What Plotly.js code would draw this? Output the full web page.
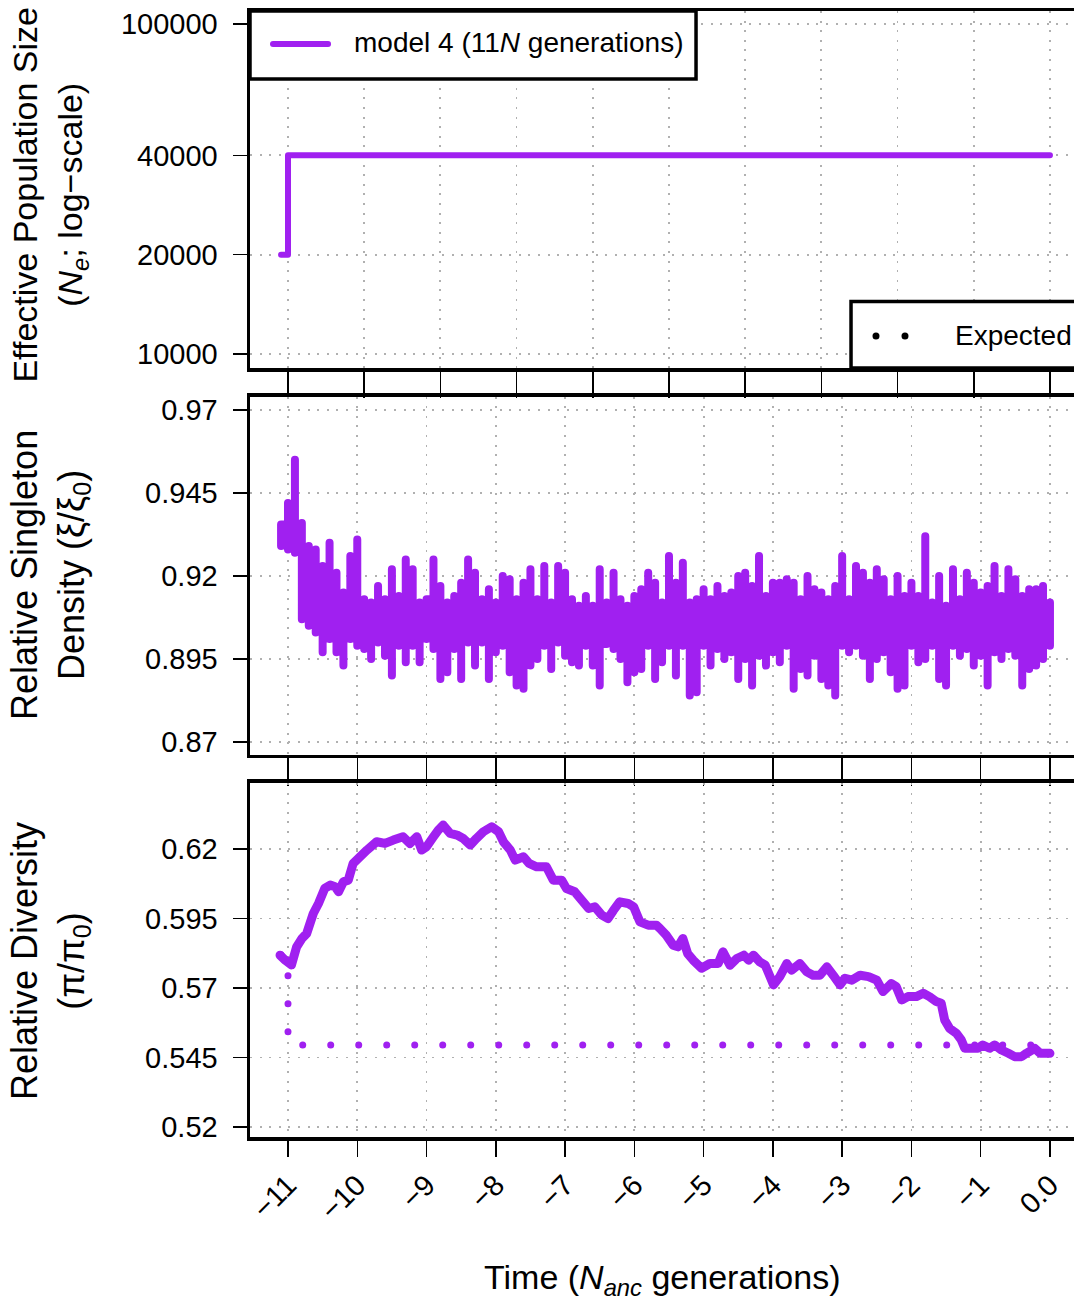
<!DOCTYPE html>
<html>
<head>
<meta charset="utf-8">
<script src="https://cdn.plot.ly/plotly-3.0.1.min.js"></script>
<style>
  html, body { margin: 0; padding: 0; background: #ffffff; }
  #chart { width: 1074px; height: 1302px; }
  /* round caps/joins so thick lines and the dotted expectation look like R output */
  .scatterlayer path.js-line { stroke-linecap: round !important; stroke-linejoin: round !important; }
  .shapelayer path { stroke-linecap: round; }
</style>
</head>
<body>
<div id="chart"></div>
<script>
// ---- Effective population size (step history) ----
const popTime = [-11.1, -11.0, 0.0];
const popSize = [20000, 40000, 40000];

// ---- Relative singleton density: per-bin minimum and maximum,
//      bins every 0.1 N_anc generations starting at -11.1 ----
const sfsStart = -11.1;
const sfsStep = 0.1;
const sfsBinLow = [
  0.929, 0.928, 0.927, 0.907, 0.905, 0.903, 0.897, 0.901, 0.897, 0.893,
  0.901, 0.899, 0.898, 0.895, 0.900, 0.896, 0.890, 0.899, 0.894, 0.899,
  0.894, 0.901, 0.898, 0.889, 0.891, 0.898, 0.889, 0.900, 0.893, 0.900,
  0.889, 0.897, 0.899, 0.891, 0.887, 0.886, 0.893, 0.895, 0.899, 0.892,
  0.900, 0.896, 0.894, 0.893, 0.899, 0.893, 0.887, 0.900, 0.898, 0.895,
  0.888, 0.891, 0.892, 0.899, 0.889, 0.894, 0.899, 0.890, 0.899, 0.884,
  0.885, 0.899, 0.893, 0.898, 0.895, 0.897, 0.889, 0.895, 0.887, 0.896,
  0.893, 0.897, 0.894, 0.899, 0.886, 0.892, 0.890, 0.896, 0.889, 0.887,
  0.884, 0.899, 0.897, 0.899, 0.896, 0.889, 0.895, 0.897, 0.891, 0.886,
  0.887, 0.899, 0.894, 0.895, 0.899, 0.889, 0.887, 0.899, 0.896, 0.898,
  0.893, 0.896, 0.887, 0.897, 0.895, 0.898, 0.896, 0.887, 0.892, 0.893,
  0.895, 0.899
];
const sfsBinHigh = [
  0.932, 0.942, 0.955, 0.936, 0.929, 0.928, 0.923, 0.930, 0.921, 0.915,
  0.926, 0.931, 0.913, 0.912, 0.917, 0.913, 0.922, 0.914, 0.925, 0.922,
  0.912, 0.913, 0.925, 0.917, 0.912, 0.914, 0.918, 0.925, 0.921, 0.913,
  0.916, 0.912, 0.920, 0.919, 0.913, 0.918, 0.922, 0.913, 0.923, 0.912,
  0.923, 0.921, 0.913, 0.911, 0.914, 0.911, 0.922, 0.912, 0.921, 0.913,
  0.911, 0.914, 0.916, 0.921, 0.918, 0.912, 0.926, 0.918, 0.924, 0.912,
  0.913, 0.916, 0.913, 0.917, 0.914, 0.915, 0.920, 0.921, 0.917, 0.926,
  0.914, 0.918, 0.918, 0.919, 0.918, 0.913, 0.920, 0.916, 0.915, 0.913,
  0.917, 0.926, 0.913, 0.923, 0.921, 0.918, 0.922, 0.919, 0.913, 0.920,
  0.914, 0.918, 0.914, 0.932, 0.912, 0.920, 0.911, 0.922, 0.913, 0.921,
  0.918, 0.915, 0.917, 0.923, 0.914, 0.922, 0.919, 0.914, 0.916, 0.916,
  0.917, 0.912
];

// Trace each bin from its maximum down to its minimum; with a 'vhv' line shape
// the hop to the next bin runs horizontally through the middle of the band,
// so the excursions stand up as vertical strokes.
const sfsTime = [];
const sfsValue = [];
sfsBinLow.forEach((lo, k) => {
  const t = +(sfsStart + k * sfsStep).toFixed(3);
  sfsTime.push(t, t);
  sfsValue.push(sfsBinHigh[k], lo);
});

// ---- Relative diversity (observed) ----
const divTime = [
  -11.115, -11.04, -10.95, -10.875, -10.80, -10.73, -10.635, -10.56, -10.47, -10.39,
  -10.32, -10.27, -10.20, -10.13, -10.06, -9.96, -9.86, -9.72, -9.60, -9.48,
  -9.34, -9.24, -9.14, -9.07, -9.00, -8.90, -8.83, -8.76, -8.66, -8.56,
  -8.47, -8.37, -8.28, -8.18, -8.06, -7.96, -7.89, -7.79, -7.72, -7.60,
  -7.52, -7.41, -7.27, -7.17, -7.05, -6.98, -6.86, -6.76, -6.66, -6.57,
  -6.47, -6.38, -6.30, -6.21, -6.09, -6.01, -5.92, -5.80, -5.68, -5.63,
  -5.54, -5.44, -5.37, -5.30, -5.23, -5.15, -5.03, -4.91, -4.79, -4.72,
  -4.62, -4.52, -4.42, -4.35, -4.28, -4.19, -4.11, -3.99, -3.90, -3.80,
  -3.73, -3.61, -3.51, -3.42, -3.32, -3.22, -3.13, -3.03, -2.96, -2.86,
  -2.74, -2.62, -2.50, -2.41, -2.29, -2.22, -2.14, -2.05, -1.93, -1.83,
  -1.74, -1.64, -1.57, -1.52, -1.45, -1.35, -1.28, -1.23, -1.14, -1.04,
  -0.97, -0.87, -0.80, -0.70, -0.60, -0.51, -0.41, -0.34, -0.22, -0.14,
  -0.05, 0.00
];
const divValue = [
  0.5818, 0.5800, 0.5783, 0.5848, 0.5878, 0.5896, 0.5968, 0.6004, 0.6058, 0.6070,
  0.6064, 0.6046, 0.6082, 0.6088, 0.6148, 0.6172, 0.6196, 0.6226, 0.6220, 0.6232,
  0.6244, 0.6220, 0.6244, 0.6196, 0.6208, 0.6244, 0.6268, 0.6286, 0.6256, 0.6250,
  0.6238, 0.6214, 0.6238, 0.6262, 0.6280, 0.6262, 0.6226, 0.6196, 0.6160, 0.6172,
  0.6148, 0.6136, 0.6136, 0.6088, 0.6088, 0.6058, 0.6046, 0.6016, 0.5986, 0.5992,
  0.5962, 0.5950, 0.5980, 0.6010, 0.6004, 0.5992, 0.5938, 0.5926, 0.5926, 0.5914,
  0.5890, 0.5854, 0.5848, 0.5878, 0.5824, 0.5800, 0.5771, 0.5788, 0.5788, 0.5830,
  0.5782, 0.5806, 0.5818, 0.5800, 0.5818, 0.5794, 0.5782, 0.5711, 0.5741, 0.5788,
  0.5764, 0.5788, 0.5758, 0.5746, 0.5746, 0.5776, 0.5746, 0.5711, 0.5735, 0.5728,
  0.5746, 0.5741, 0.5728, 0.5687, 0.5716, 0.5705, 0.5657, 0.5669, 0.5669, 0.5681,
  0.5669, 0.5651, 0.5645, 0.5585, 0.5555, 0.5537, 0.5513, 0.5483, 0.5483, 0.5483,
  0.5495, 0.5483, 0.5495, 0.5477, 0.5465, 0.5453, 0.5453, 0.5465, 0.5483, 0.5465,
  0.5465, 0.5465
];

// ---- Relative diversity (expected) ----
const expTime = [-11.1, -11.0, -11.0, 0.0];
const expValue = [0.582, 0.582, 0.5495, 0.5495];

// ---- Axis ticks ----
const timeTicks = [-11, -10, -9, -8, -7, -6, -5, -4, -3, -2, -1, 0];
const timeTickText = ['\u221211', '\u221210', '\u22129', '\u22128', '\u22127', '\u22126', '\u22125', '\u22124', '\u22123', '\u22122', '\u22121', '0.0'];
const popTicks = [-11, -9.9, -8.8, -7.7, -6.6, -5.5, -4.4, -3.3, -2.2, -1.1, 0];
const neTicks = [10000, 20000, 40000, 100000];
const neTickText = ['10000', '20000', '40000', '100000'];
const sfsTicks = [0.87, 0.895, 0.92, 0.945, 0.97];
const sfsTickText = ['0.87', '0.895', '0.92', '0.945', '0.97'];
const divTicks = [0.52, 0.545, 0.57, 0.595, 0.62];
const divTickText = ['0.52', '0.545', '0.57', '0.595', '0.62'];

const PURPLE = '#A020F0';
const FONT = 'Liberation Sans, Arial, Helvetica, sans-serif';
const xRange = [-11.5486, 0.3471];

const traces = [
  { x: popTime, y: popSize, xaxis: 'x', yaxis: 'y', mode: 'lines',
    line: { color: PURPLE, width: 6, shape: 'hv' }, name: 'model 4 (11N generations)' },
  { x: sfsTime, y: sfsValue, xaxis: 'x2', yaxis: 'y2', mode: 'lines',
    line: { color: PURPLE, width: 8, shape: 'vhv', simplify: false }, name: 'singleton density' },
  { x: divTime, y: divValue, xaxis: 'x3', yaxis: 'y3', mode: 'lines',
    line: { color: PURPLE, width: 9, simplify: false }, name: 'diversity' },
  { x: expTime, y: expValue, xaxis: 'x3', yaxis: 'y3', mode: 'lines',
    line: { color: PURPLE, width: 7, dash: '0px,28px' }, name: 'Expected' }
];

const gridStyle = { showgrid: true, gridcolor: '#b0b0b0', gridwidth: 1.8, griddash: '2px,7.6px' };

function yAxis(extra) {
  return Object.assign({
    showline: true, linecolor: '#000', linewidth: 3.5, mirror: false,
    ticks: 'outside', ticklen: 14, tickwidth: 1.5, tickcolor: '#000',
    tickmode: 'array', zeroline: false, ticklabelstandoff: 9,
    tickfont: { family: FONT, size: 29, color: '#000' }, fixedrange: true
  }, gridStyle, extra);
}
function xAxis(extra) {
  return Object.assign({
    range: xRange, showline: true, linecolor: '#000', linewidth: 3.5, mirror: true,
    ticks: 'outside', tickwidth: 1.5, tickcolor: '#000', tickmode: 'array',
    zeroline: false, tickfont: { family: FONT, size: 29, color: '#000' }, fixedrange: true
  }, gridStyle, extra);
}

const titleFont = (size) => ({ family: FONT, size: size, color: '#000' });

const layout = {
  width: 1074, height: 1302,
  margin: { l: 250, r: 0, t: 11, b: 165 },
  paper_bgcolor: '#ffffff', plot_bgcolor: '#ffffff',
  showlegend: false,
  font: { family: FONT, color: '#000' },
  xaxis: xAxis({ anchor: 'y', tickvals: popTicks, showticklabels: false, ticklen: 26 }),
  xaxis2: xAxis({ anchor: 'y2', tickvals: timeTicks, showticklabels: false, ticklen: 28 }),
  xaxis3: xAxis({ anchor: 'y3', tickvals: timeTicks, ticktext: timeTickText, ticklen: 16, tickangle: -45 }),
  yaxis: yAxis({ domain: [0.6829, 1], type: 'log', range: [3.9576, 5.0394], tickvals: neTicks, ticktext: neTickText }),
  yaxis2: yAxis({ domain: [0.3393, 0.6576], range: [0.86609, 0.97406], tickvals: sfsTicks, ticktext: sfsTickText }),
  yaxis3: yAxis({ domain: [0, 0.3144], range: [0.5164, 0.64374], tickvals: divTicks, ticktext: divTickText }),
  shapes: [
    // legend box: model line
    { type: 'rect', xref: 'paper', yref: 'paper', x0: 0, x1: 0.5413, y0: 0.9396, y1: 1,
      fillcolor: '#ffffff', line: { color: '#000', width: 3.5 }, layer: 'above' },
    { type: 'line', xref: 'paper', yref: 'paper', x0: 0.0279, x1: 0.0947, y0: 0.9707, y1: 0.9707,
      line: { color: PURPLE, width: 6 }, layer: 'above' },
    // legend box: expected
    { type: 'rect', xref: 'paper', yref: 'paper', x0: 0.7294, x1: 1.03, y0: 0.6829, y1: 0.742,
      fillcolor: '#ffffff', line: { color: '#000', width: 3.5 }, layer: 'above' },
    { type: 'line', xref: 'paper', yref: 'paper', x0: 0.7597, x1: 0.7949, y0: 0.7114, y1: 0.7114,
      line: { color: '#000', width: 7, dash: '0px,29px' }, layer: 'above' }
  ],
  annotations: [
    { text: 'model 4 (11<i>N</i> generations)', xref: 'paper', yref: 'paper', x: 0.1238, y: 0.9716,
      xanchor: 'left', yanchor: 'middle', showarrow: false, font: titleFont(28) },
    { text: 'Expected', xref: 'paper', yref: 'paper', x: 0.8532, y: 0.7114,
      xanchor: 'left', yanchor: 'middle', showarrow: false, font: titleFont(28) },
    { text: 'Effective Population Size<br>(<i>N</i><sub><i>e</i></sub>; log\u2212scale)',
      xref: 'paper', yref: 'paper', x: -0.2427, y: 0.837, textangle: -90,
      xanchor: 'center', yanchor: 'middle', showarrow: false, font: titleFont(34) },
    { text: 'Relative Singleton<br>Density (\u03BE/\u03BE<sub>0</sub>)',
      xref: 'paper', yref: 'paper', x: -0.2427, y: 0.4991, textangle: -90,
      xanchor: 'center', yanchor: 'middle', showarrow: false, font: titleFont(36) },
    { text: 'Relative Diversity<br>(\u03C0/\u03C0<sub>0</sub>)',
      xref: 'paper', yref: 'paper', x: -0.2427, y: 0.1563, textangle: -90,
      xanchor: 'center', yanchor: 'middle', showarrow: false, font: titleFont(36) },
    { text: 'Time (<i>N</i><sub><i>anc</i></sub> generations)',
      xref: 'paper', yref: 'paper', x: 0.5, y: -0.1265,
      xanchor: 'center', yanchor: 'middle', showarrow: false, font: titleFont(34) }
  ]
};

Plotly.newPlot('chart', traces, layout, { staticPlot: true, displayModeBar: false });
</script>
</body>
</html>
